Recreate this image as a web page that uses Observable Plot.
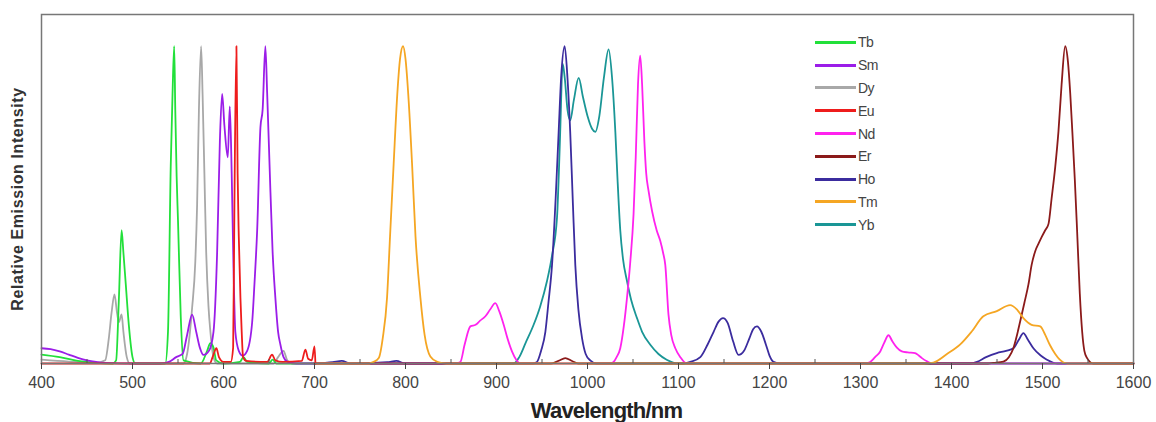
<!DOCTYPE html>
<html>
<head>
<meta charset="utf-8">
<script src="https://cdn.jsdelivr.net/npm/d3@7"></script>
<script src="https://cdn.jsdelivr.net/npm/@observablehq/plot@0.6"></script>
<style>
  html, body { margin: 0; padding: 0; background: #fff; }
  #wrap { position: relative; width: 1156px; height: 422px; font-family: "Liberation Sans", Arial, sans-serif; }
  #legend { position: absolute; left: 815px; top: 31px; }
  .row { display: flex; align-items: center; height: 22.8px; }
  .sw { width: 41px; height: 3px; margin-right: 2px; }
  .lab { font-size: 14px; color: #444; letter-spacing: -0.5px; }
  g[aria-label="x-axis label"] text { font-size: 22px; font-weight: bold; fill: #222; letter-spacing: -0.8px; }
  g[aria-label="y-axis label"] text { font-size: 16px; font-weight: bold; fill: #333; letter-spacing: 0.6px; }
</style>
</head>
<body>
<div id="wrap"><div id="chart"></div><div id="legend"></div></div>
<script>
// ---- data: [wavelength (nm), relative intensity] ----
const Dy = [[400,0.012],[430,0.006],[460,0.002],[470,0.01],[474,0.08],[477,0.16],[480.2,0.218],[483,0.16],[485,0.13],[488,0.155],[490,0.1],[493.7,0.02],[497,0],[556,0],[560,0.03],[565.5,0.175],[569,0.32],[571,0.5],[573,0.8],[575.4,1.0],[577,0.85],[579,0.6],[581,0.35],[583.5,0.18],[585.6,0.1],[589,0.02],[593,0],[655,0],[660,0.02],[666,0.04],[670,0.01],[675,0],[700,0]];
const Tb = [[400,0.028],[420,0.02],[440,0.008],[460,0.002],[478,0],[482,0.01],[485,0.2],[488,0.42],[490,0.35],[492.6,0.25],[496,0.12],[500,0.02],[503,0],[536,0],[539,0.1],[542,0.62],[544,0.85],[545.8,1.0],[547,0.8],[548.5,0.59],[550,0.45],[553,0.15],[556,0.01],[575,0],[582,0.04],[585.6,0.064],[589,0.05],[592,0.01],[600,0],[618,0.005],[622,0.02],[626,0.005],[650,0],[654,0.012],[658,0],[700,0]];
const Sm = [[400,0.048],[410,0.045],[420,0.038],[430,0.028],[440,0.018],[450,0.01],[460,0.005],[470,0.002],[500,0],[530,0],[540,0.005],[548,0.02],[555,0.03],[560,0.09],[565.5,0.154],[570,0.1],[574,0.05],[578,0.027],[584,0.04],[589,0.1],[593,0.35],[596,0.7],[598.5,0.85],[601,0.75],[604.7,0.65],[606.9,0.81],[609,0.6],[611,0.3],[613,0.1],[616.8,0.04],[621,0.025],[626,0.04],[631.5,0.13],[634,0.25],[637,0.42],[640.6,0.745],[643,0.8],[646,1.0],[648,0.85],[651.6,0.54],[654,0.35],[657,0.207],[660,0.1],[662.5,0.06],[666,0.02],[670,0.006],[680,0],[700,0]];
const Yb = [[700,0],[800,0],[918.8,0],[925,0.02],[932,0.065],[940.8,0.122],[948,0.18],[955.5,0.26],[961,0.34],[966.5,0.46],[968.5,0.6],[970,0.73],[972.7,0.945],[975,0.9],[978,0.8],[981,0.766],[985,0.83],[990.3,0.9],[995,0.84],[1000,0.78],[1005,0.74],[1008.6,0.73],[1013,0.78],[1018,0.9],[1023.2,0.99],[1027,0.9],[1030.6,0.73],[1033,0.58],[1036,0.42],[1039,0.33],[1043.4,0.26],[1048,0.2],[1054.4,0.143],[1060,0.1],[1069,0.059],[1078,0.03],[1087,0.012],[1100,0],[1600,0]];
const Ho = [[700,0],[720,0.004],[730,0.008],[740,0],[780,0.004],[790,0.008],[800,0],[940,0],[944.5,0.005],[949,0.04],[953.7,0.1],[957,0.19],[961,0.31],[965,0.52],[968.3,0.73],[971,0.9],[974.9,1.0],[978,0.9],[981,0.73],[984,0.5],[986.6,0.31],[990,0.17],[994,0.08],[998,0.03],[1003,0.01],[1010,0],[1105,0],[1113,0.005],[1124,0.02],[1132,0.06],[1138.6,0.1],[1144,0.132],[1148.9,0.143],[1154,0.128],[1160,0.07],[1166,0.027],[1172,0.04],[1178,0.08],[1182,0.108],[1186.2,0.117],[1191,0.1],[1196,0.06],[1200,0.025],[1204.5,0.005],[1212,0],[1420,0],[1428,0.005],[1438,0.02],[1449.8,0.033],[1460,0.04],[1468,0.048],[1474,0.075],[1479,0.096],[1484,0.075],[1490,0.048],[1498,0.025],[1504.8,0.012],[1516,0],[1600,0]];
const Nd = [[700,0],[855,0],[860.3,0.005],[865,0.06],[871.3,0.117],[877,0.122],[882,0.135],[887.8,0.149],[893,0.17],[898.7,0.19],[903,0.165],[907.9,0.122],[912,0.08],[917,0.038],[922,0.01],[926,0],[1025,0],[1028.7,0.005],[1032,0.02],[1036,0.048],[1040,0.12],[1043.4,0.207],[1047,0.32],[1050.6,0.47],[1053,0.65],[1055.5,0.88],[1057.9,0.97],[1060,0.88],[1062.5,0.7],[1064.5,0.6],[1067.1,0.544],[1071,0.48],[1076,0.42],[1080,0.386],[1083,0.35],[1085.5,0.31],[1089,0.154],[1092,0.09],[1096.5,0.048],[1102,0.02],[1109,0],[1305,0],[1310.7,0.005],[1316,0.02],[1321.7,0.038],[1326,0.065],[1330.8,0.089],[1335,0.07],[1340,0.05],[1345.4,0.038],[1352,0.035],[1360,0.033],[1364,0.025],[1367.5,0.017],[1373,0.007],[1378.5,0],[1600,0]];
const Er = [[700,0],[960,0],[968,0.008],[975.6,0.017],[983,0.008],[990,0],[1440,0],[1446,0.002],[1457,0.006],[1463,0.02],[1468,0.048],[1472,0.09],[1475.5,0.133],[1480,0.19],[1484.6,0.25],[1488,0.31],[1492,0.354],[1496,0.38],[1499.3,0.4],[1503,0.42],[1506.6,0.44],[1510,0.52],[1514,0.62],[1517.5,0.73],[1521,0.88],[1524.9,1.0],[1528,0.95],[1530.5,0.85],[1532.8,0.73],[1535.5,0.58],[1538,0.42],[1541,0.22],[1543.6,0.1],[1546,0.04],[1549,0.017],[1556,0],[1600,0]];
const Tm = [[700,0],[760,0],[765,0.005],[770.6,0.017],[775,0.08],[779.7,0.207],[783,0.4],[787,0.63],[791,0.85],[794,0.96],[797.3,1.0],[800,0.96],[803,0.85],[807.2,0.63],[811,0.4],[816.4,0.207],[821,0.09],[827.3,0.022],[835,0.005],[845,0],[1370,0],[1380,0.003],[1395,0.03],[1409.6,0.06],[1422,0.1],[1435,0.149],[1449.8,0.165],[1464.4,0.184],[1472,0.17],[1479,0.143],[1488,0.122],[1497.5,0.117],[1503,0.09],[1508,0.059],[1514,0.03],[1519,0.012],[1527,0],[1600,0]];
const Eu = [[400,0],[585,0],[588,0.02],[592.2,0.048],[595,0.02],[600,0.005],[608,0.005],[610.6,0.05],[612,0.5],[614.2,1.0],[615.5,0.6],[616.8,0.4],[618.6,0.207],[620,0.1],[621.5,0.02],[625,0.008],[648,0.005],[653.4,0.028],[657,0.01],[665,0.005],[686,0.008],[690,0.044],[693,0.015],[697,0.01],[700,0.054],[701,0]];

const legendNames = ["Tb","Sm","Dy","Eu","Nd","Er","Ho","Tm","Yb"];
const legendColors = ["#22e03a","#9b1de8","#a8a8a8","#ee1c1c","#ff22ee","#8b1a1a","#3b2c9e","#f5a623","#1a9696"];
const drawOrder = [["Dy",Dy],["Tb",Tb],["Sm",Sm],["Yb",Yb],["Ho",Ho],["Nd",Nd],["Er",Er],["Tm",Tm],["Eu",Eu]];
const xTicks = d3.range(400, 1601, 100);
const xMinor = d3.range(450, 1600, 100);

const rows = drawOrder.flatMap(([name, pts]) => pts.map(([w, v]) => ({name, w, v})));

const chart = Plot.plot({
  width: 1156,
  height: 422,
  marginLeft: 41,
  marginRight: 23,
  marginTop: 14,
  marginBottom: 59,
  style: {fontFamily: "'Liberation Sans', Arial, sans-serif", background: "#fff"},
  x: {domain: [400, 1600]},
  y: {domain: [0, 1.1]},
  color: {domain: legendNames, range: legendColors},
  marks: [
    Plot.line(rows, {x: "w", y: "v", z: "name", stroke: "name", strokeWidth: 1.8, curve: "monotone-x"}),
    Plot.frame({stroke: "#777", strokeWidth: 1.5}),
    Plot.axisX({ticks: xTicks, tickSize: 6, tickPadding: 7, fontSize: 16, color: "#444", label: null, tickFormat: d3.format("d")}),
    Plot.axisX({ticks: xMinor, tickSize: -4, text: null, label: null, color: "#555"}),
    Plot.axisX({ticks: [], label: "Wavelength/nm", labelAnchor: "center", labelArrow: "none", labelOffset: 54}),
    Plot.axisY({ticks: [], label: "Relative Emission Intensity", labelAnchor: "center", labelArrow: "none", labelOffset: 30})
  ]
});
document.getElementById("chart").appendChild(chart);

// nudge the axis titles to where the reference places them
chart.querySelectorAll('g[aria-label="x-axis label"] text').forEach(t => t.setAttribute("dx", "19"));
chart.querySelectorAll('g[aria-label="y-axis label"] text').forEach(t => t.setAttribute("dx", "-10"));

const leg = document.getElementById("legend");
legendNames.forEach((n, i) => {
  const r = document.createElement("div");
  r.className = "row";
  r.innerHTML = `<span class="sw" style="background:${legendColors[i]}"></span><span class="lab">${n}</span>`;
  leg.appendChild(r);
});
</script>
</body>
</html>
